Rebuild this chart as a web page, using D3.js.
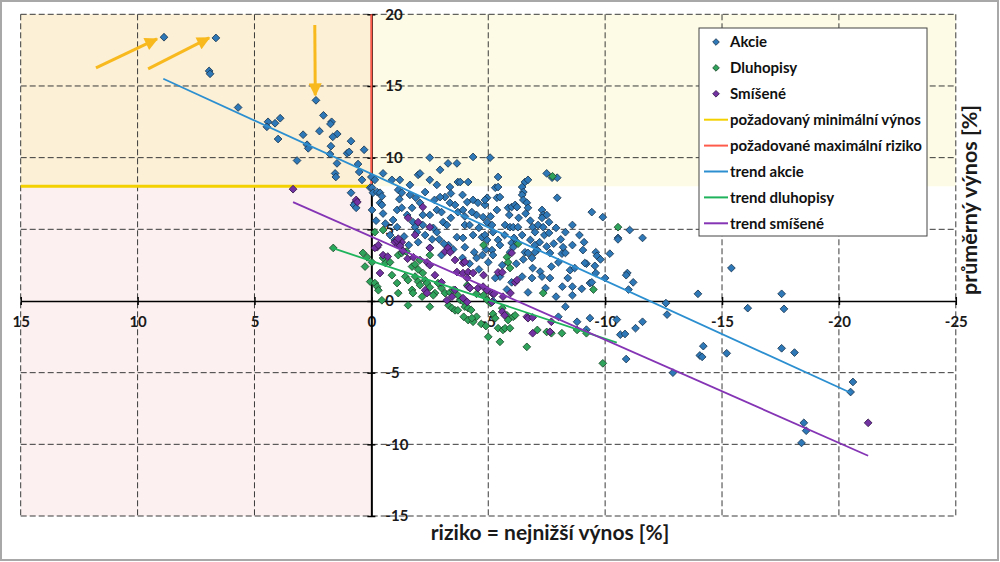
<!DOCTYPE html>
<html>
<head>
<meta charset="utf-8">
<script src="https://cdn.jsdelivr.net/npm/d3@7"></script>
<style>
    html, body { margin: 0; padding: 0; background: #fff; }
    svg { display: block; font-family: Lato, "Open Sans", sans-serif; }
    .tick text { font-size: 15px; font-weight: bold; fill: #1a1a1a; }
    .legend text { font-size: 15px; font-weight: bold; fill: #111; }
    .title { font-size: 21px; font-weight: bold; fill: #1a1a1a; }
</style>
</head>
<body>
<svg id="chart" width="1000" height="562"></svg>
<script>
// data (x = riziko, y = prumerny vynos)
const xTicks = [15, 10, 5, 0, -5, -10, -15, -20, -25];
const yTicks = [20, 15, 10, 5, 0, -5, -10, -15];
const minVynos = 8;
const maxRiziko = 0;

const akcie = [
    [8.87,18.4],[6.65,18.35],[6.94,16.05],[6.9,15.85],[5.7,13.5],[4.42,12.5],[4.47,12.15],[4.12,12.4],[3.9,12.75],
    [3.99,11.3],[3.18,9.8],[2.92,11.6],[2.75,10.9],[2.7,10.65],[2.37,14.0],[2.22,11.85],[2.05,12.95],[1.7,12.5],
    [1.75,12.35],[1.46,11.65],[1.65,11.45],[1.73,10.8],[1.77,10.25],[1.47,9.6],[1.55,8.9],[1.52,8.65],[1.04,10.3],
    [0.95,10.4],[0.87,11.15],[0.57,9.55],[0.52,9.0],[0.31,10.55],[0.4,8.45],[0.87,7.55],[0.7,6.85],[0.75,6.7],
    [0.0,8.65],[-0.15,8.45],[-0.5,8.9],[0.05,7.9],[-0.03,7.9],[-0.07,7.55],[-0.25,7.6],[-0.37,7.55],[-0.45,7.3],
    [-0.03,6.35],[-0.37,6.85],[-0.45,6.7],[0.65,6.5],[-0.88,8.45],[-1.22,8.45],[-1.15,7.75],[-1.3,7.55],
    [-1.65,8.1],[-1.65,7.4],[-2.0,8.8],[-2.08,8.9],[-2.5,10.0],[-2.5,8.45],[-2.8,8.1],[-2.94,9.15],[-3.15,7.25],
    [-3.28,9.6],[-3.66,9.6],[-3.36,7.95],[-3.7,8.3],[-3.8,8.3],[-4.14,8.3],[-4.35,10.05],[-4.35,7.05],[-4.56,6.85],
    [-4.86,6.7],[-1.1,6.35],[-1.3,6.5],[-1.53,6.0],[-1.74,6.5],[-1.78,5.5],[-1.87,5.15],[-2.08,6.85],[-2.2,6.0],
    [-2.5,6.0],[-2.7,7.05],[-2.94,7.25],[-2.8,6.35],[-3.0,6.2],[-3.07,5.5],[-3.23,5.3],[-2.65,5.1],[-2.8,4.8],
    [-3.36,6.85],[-3.58,6.7],[-3.7,6.2],[-3.92,6.35],[-4.0,5.3],[-4.2,5.3],[-4.5,6.0],[-4.78,5.85],[-3.66,4.45],
    [-3.92,4.4],[-4.35,4.6],[-4.73,4.45],[-0.93,5.65],[-1.1,5.15],
    [-5.08,10.0],[-5.42,8.65],[-5.3,7.9],[-5.42,7.95],[-4.95,7.2],[-4.86,7.05],[-5.37,7.2],[-5.5,7.25],[-5.37,6.35],
    [-5.85,6.5],[-6.0,6.55],[-6.15,6.7],[-6.23,6.55],[-6.45,7.95],[-6.57,8.3],[-6.7,8.45],[-6.5,7.6],[-6.45,7.4],
    [-6.5,7.05],[-6.65,6.85],[-6.7,6.5],[-7.5,8.9],[-7.73,8.6],[-7.95,8.6],[-7.95,7.2],[-7.3,6.35],[-7.35,6.0],
    [-7.5,6.0],[-7.3,5.8],[-8.6,5.3],[-9.43,6.2],[-9.9,5.85],[-11.05,4.95],[-10.55,4.4],[-11.6,4.4],[-4.95,5.5],
    [-5.16,5.3],[-5.72,5.3],[-5.93,5.15],[-6.07,5.15],[-6.27,5.15],[-6.9,5.15],[-7.13,5.3],[-7.35,5.15],[-7.0,4.8],
    [-7.4,4.6],[-7.6,4.75],[-8.3,4.8],[-4.86,4.6],[-4.95,4.26],[-5.42,4.26],[-5.5,3.9],[-6.0,4.05],[-6.23,4.1],
    [-6.45,4.6],[-6.8,4.26],[-7.0,3.9],[-7.1,3.55],[-7.2,4.1],[-8.2,3.75],[-8.6,3.9],
    [-3.3,3.9],[-3.5,3.6],[-4.0,3.75],[-4.4,3.4],[-4.5,3.0],[-4.75,3.2],[-3.9,3.0],[-4.2,2.6],[-5.0,2.7],[-4.6,2.2],
    [-3.1,4.0],[-2.6,4.3],[-2.3,4.6],[-1.95,4.8],[-2.5,3.7],[-3.0,3.2],[-1.4,4.5],[-0.8,4.6],[-1.0,4.25],
    [-5.16,3.55],[-5.2,3.2],[-5.93,3.4],[-6.07,3.75],[-6.57,3.4],[-6.7,3.35],[-6.87,3.0],[-7.0,3.4],[-7.64,3.35],
    [-8.15,3.3],[-8.3,3.35],[-9.05,3.55],[-9.6,3.4],[-9.65,3.15],[-9.2,2.6],[-9.56,2.45],[-9.13,2.65],[-8.5,2.15],
    [-8.7,2.3],[-6.45,1.7],[-6.87,1.6],[-7.22,2.05],[-7.3,1.7],[-7.64,1.6],[-7.45,0.9],[-8.17,1.0],[-8.6,1.0],
    [-8.6,0.4],[-9.0,0.85],[-9.35,1.25],[-9.43,1.3],[-10.0,1.6],[-10.95,1.95],[-10.9,1.8],[-11.2,1.3],[-11.0,0.8],
    [-8.3,-0.4],[-8.0,-1.1],[-9.35,-1.2],[-8.8,-1.45],[-10.5,-1.3],[-9.2,-2.0],[-10.65,-2.35],[-10.85,-2.3],
    [-11.3,-1.9],[-11.6,-1.45],[-5.5,1.7],[-5.3,1.6],[-6.0,1.3],[-5.2,0.0],[-10.55,4.3],[-9.6,1.95],
    [-12.6,-0.15],[-12.65,-0.95],[-13.97,0.5],[-15.4,2.3],[-16.1,-0.5],[-17.55,0.5],[-17.65,-0.55],[-10.9,-4.05],
    [-12.9,-5.0],[-14.2,-3.15],[-14.05,-3.8],[-14.15,-3.9],[-15.2,-3.65],[-17.55,-3.3],[-18.1,-3.6],[-20.6,-5.65],
    [-20.5,-6.35],[-18.5,-8.5],[-18.6,-9.05],[-18.4,-9.9],
    [-1.2,7.1],[-1.9,7.2],[-2.3,7.6],[-3.4,7.5],[-3.9,7.4],[-4.1,6.9],[-4.0,5.9],[-4.6,5.1],[-5.2,4.8],[-5.7,4.6],
    [-5.9,6.0],[-6.3,5.8],[-6.6,6.1],[-6.8,5.6],[-7.6,5.5],[-7.9,5.1],[-8.1,4.3],[-7.8,4.0],[-7.5,3.8],[-8.9,4.6],
    [-9.1,4.1],[-8.0,2.7],[-7.7,2.4],[-6.2,2.6],[-6.5,2.9],[-5.6,2.5],[-6.9,2.3],[-4.9,3.6],[-2.2,5.3],[-2.0,4.1],
    [-1.6,3.9],[-2.9,4.3],[-3.4,5.8],[-4.3,6.2],[-5.1,5.9],[-0.6,5.4],[-0.2,5.6],[-0.5,6.1],[-6.1,4.4],[-8.4,1.6],
    [-9.8,2.9],[-10.2,3.3],[-6.7,0.6],[-7.9,0.3],[-5.8,0.8]
];

const dluhopisy = [
    [1.63,3.7],[0.36,3.35],[0.18,3.05],[-0.03,2.7],[0.27,2.4],[0.05,1.35],[-0.15,1.25],[-0.25,1.0],[-0.3,0.75],
    [-0.45,0.05],[-0.15,4.8],[-0.5,4.95],[-0.6,2.65],[-0.8,2.7],[-0.88,1.8],[-1.1,1.25],[-1.15,3.2],[-1.3,3.35],
    [-1.45,1.7],[-1.57,1.45],[-1.57,-0.3],[-1.74,2.4],[-1.87,2.55],[-2.0,2.2],[-1.87,1.7],[-2.0,1.35],[-2.08,1.1],
    [-2.2,1.95],[-2.3,1.45],[-2.38,1.25],[-2.17,0.3],[-2.5,-0.4],[-2.5,0.95],[-2.72,0.55],[-2.65,0.4],[-2.85,1.25],
    [-3.0,0.9],[-3.15,0.55],[-3.36,0.6],[-3.3,-0.3],[-3.45,-0.5],[-3.58,-0.65],[-3.7,-0.65],[-3.8,0.07],
    [-3.95,-0.07],[-4.0,-0.4],[-4.14,-0.5],[-4.27,-0.63],[-3.95,-1.1],[-4.14,-1.33],[-4.35,-1.45],[-4.5,-1.1],
    [-4.3,-1.2],[-4.1,1.1],[-3.7,0.4],[-3.5,0.75],[-4.5,0.5],[-4.8,0.4],[-4.95,0.07],[-5.1,-0.15],[-5.0,-2.5],
    [-1.74,0.77],[-1.78,0.55],[-0.5,3.0],[-1.5,3.45],[-2.08,2.86],[-2.5,3.2],[-1.15,0.55],[-5.8,3.05],[-5.85,2.7],
    [-5.93,2.3],[-7.35,0.55],[-9.5,0.8],[-5.6,-0.5],[-5.8,-1.0],[-5.85,-1.33],[-6.07,-1.1],[-6.15,-1.0],
    [-5.42,-1.9],[-5.63,-2.02],[-5.72,-1.9],[-5.93,-1.9],[-5.5,-2.85],[-6.65,-3.2],[-7.1,-2.02],[-7.5,-2.16],
    [-7.7,-2.25],[-8.15,-2.25],[-8.8,-2.02],[-9.2,-2.25],[-10.55,5.15],[-9.9,-4.35],[-7.75,8.7],[-4.8,3.9],
    [-6.28,4.0],[-5.2,-0.9],[-5.3,-1.2],[-4.7,-1.6],[-4.9,-1.75]
];

const smisene = [
    [3.35,7.8],[0.65,7.05],[0.6,6.9],[-0.25,3.75],[-0.5,3.2],[-1.0,4.1],[-1.15,3.9],[-1.3,4.1],[-0.37,1.95],
    [-2.38,2.7],[-2.5,2.5],[-2.3,0.75],[-2.38,0.55],[-2.72,1.8],[-3.15,3.45],[-3.28,3.7],[-3.37,3.4],[-3.58,2.86],
    [-3.92,2.65],[-4.0,2.72],[-3.66,2.02],[-3.92,1.95],[-4.14,2.02],[-4.35,1.95],[-4.14,1.0],[-4.22,0.9],
    [-3.23,0.05],[-3.92,0.2],[-4.1,-0.07],[-4.56,0.9],[-4.78,1.0],[-4.95,0.75],[-5.16,0.55],[-3.58,0.77],
    [-5.42,2.0],[-5.6,2.0],[-6.15,1.3],[-6.23,1.45],[-5.63,0.3],[-5.6,-0.75],[-5.7,-1.0],[-6.65,-1.1],[-6.7,-1.2],
    [-6.9,-2.25],[-7.64,-2.15],[-5.16,-0.07],[-0.15,3.7],[-0.3,3.9],[-1.1,4.2],[-1.15,4.35],[-1.23,3.85],
    [-1.35,3.5],[-0.7,3.1],[-1.55,2.95],[-1.8,3.05],[-2.5,3.7],[-3.0,1.3],[-3.45,0.3],[-4.1,1.6],[-4.8,1.8],
    [-5.25,0.5],[-5.95,0.55],[-6.0,3.35],[-6.9,-1.15],[-7.7,-1.45],[-2.2,6.55],[-1.57,5.8],[-2.0,5.5],[-2.5,5.15],
    [-1.87,4.6],[-21.25,-8.5]
];

const trendAkcie = [[8.9, 15.5], [-20.5, -6.4]];
const trendDluhopisy = [[1.68, 3.7], [-10.5, -2.9]];
const trendSmisene = [[3.35, 6.9], [-21.25, -10.8]];

// sipky: [x od, y od, x do, y do]
const sipky = [[11.78, 16.26, 9.17, 18.28], [9.55, 16.19, 6.94, 18.35], [2.42, 19.25, 2.4, 14.35]];

const legendLabels = ['Akcie', 'Dluhopisy', 'Smíšené', 'požadovaný minimální výnos',
    'požadované maximální riziko', 'trend akcie', 'trend dluhopisy', 'trend smíšené'];

const colors = {
    akcie: '#2e78b8', dluhopisy: '#2fa35c', smisene: '#7232a2',
    trendAkcie: '#2c8fd0', trendDluhopisy: '#1fb35c', trendSmisene: '#8434b4',
    vynos: '#f3d000', riziko: '#ff5b4b', sipka: '#f7b91e'
};

const svg = d3.select('#chart');
const x = d3.scaleLinear().domain([15, -25]).range([20.7, 955.8]);
const y = d3.scaleLinear().domain([20, -15]).range([14.3, 516]);

// background zones
svg.append('rect').attr('x', x(15)).attr('y', y(minVynos))
    .attr('width', x(maxRiziko) - x(15)).attr('height', y(-15) - y(minVynos)).attr('fill', '#fcf0f0');
svg.append('rect').attr('x', x(15)).attr('y', y(20))
    .attr('width', x(maxRiziko) - x(15)).attr('height', y(minVynos) - y(20)).attr('fill', '#fcf0d6');
svg.append('rect').attr('x', x(maxRiziko)).attr('y', y(20))
    .attr('width', x(-25) - x(maxRiziko)).attr('height', y(minVynos) - y(20)).attr('fill', '#fdfbe5');

// grid
const grid = svg.append('g').attr('stroke', '#3a3a3a').attr('stroke-width', 1).attr('stroke-dasharray', '6,3');
grid.selectAll('.vx').data(xTicks.filter(d => d !== 0)).enter().append('line')
    .attr('x1', d => x(d)).attr('x2', d => x(d)).attr('y1', y(20)).attr('y2', y(-15));
grid.selectAll('.hy').data(yTicks.filter(d => d !== 0)).enter().append('line')
    .attr('y1', d => y(d)).attr('y2', d => y(d)).attr('x1', x(15)).attr('x2', x(-25));

// axes
const xAxis = svg.append('g').attr('transform', 'translate(0,' + y(0) + ')')
    .call(d3.axisBottom(x).tickValues(xTicks).tickSize(4).tickSizeOuter(0).tickPadding(11).tickFormat(d => String(d)));
xAxis.attr('font-size', null).attr('font-family', null);
xAxis.selectAll('.tick line').attr('y1', -4).attr('stroke-width', 1.5);
xAxis.select('.domain').attr('stroke-width', 1.6);

const yAxis = svg.append('g').attr('transform', 'translate(' + x(0) + ',0)')
    .call(d3.axisRight(y).tickValues(yTicks).tickSize(4).tickSizeOuter(0).tickPadding(10).tickFormat(d => String(d)));
yAxis.attr('font-size', null).attr('font-family', null);
yAxis.selectAll('.tick line').attr('x1', -4).attr('stroke-width', 1.5);
yAxis.select('.domain').attr('stroke-width', 2);
svg.selectAll('.tick text').attr('fill', null);

// limits
svg.append('line').attr('x1', x(15)).attr('x2', x(maxRiziko)).attr('y1', y(minVynos)).attr('y2', y(minVynos))
    .attr('stroke', colors.vynos).attr('stroke-width', 3);
svg.append('line').attr('x1', x(maxRiziko)).attr('x2', x(maxRiziko)).attr('y1', y(20)).attr('y2', y(minVynos))
    .attr('stroke', colors.riziko).attr('stroke-width', 2);

// points
const diamond = d3.symbol().type(d3.symbolSquare).size(30)();
function drawPoints(data, fill, stroke) {
    svg.append('g').selectAll('path').data(data).enter().append('path')
        .attr('d', diamond)
        .attr('transform', d => 'translate(' + x(d[0]) + ',' + y(d[1]) + ') rotate(45)')
        .attr('fill', fill).attr('stroke', stroke).attr('stroke-width', 0.8);
}
drawPoints(akcie, colors.akcie, '#1a3650');
drawPoints(dluhopisy, colors.dluhopisy, '#1c4a2c');
drawPoints(smisene, colors.smisene, '#35184a');

// trends
const line = d3.line().x(d => x(d[0])).y(d => y(d[1]));
[[trendAkcie, colors.trendAkcie], [trendDluhopisy, colors.trendDluhopisy], [trendSmisene, colors.trendSmisene]]
    .forEach(t => {
        svg.append('path').datum(t[0]).attr('d', line)
            .attr('fill', 'none').attr('stroke', t[1]).attr('stroke-width', 1.8);
    });

// arrows
svg.append('defs').append('marker')
    .attr('id', 'head').attr('viewBox', '0 0 10 10').attr('refX', 9).attr('refY', 5)
    .attr('markerWidth', 5).attr('markerHeight', 4.4).attr('orient', 'auto')
    .append('path').attr('d', 'M0,0L10,5L0,10Z').attr('fill', colors.sipka);
svg.append('g').selectAll('line').data(sipky).enter().append('line')
    .attr('x1', d => x(d[0])).attr('y1', d => y(d[1]))
    .attr('x2', d => x(d[2])).attr('y2', d => y(d[3]))
    .attr('stroke', colors.sipka).attr('stroke-width', 3).attr('marker-end', 'url(#head)');

// legend
const legend = svg.append('g').attr('class', 'legend').attr('transform', 'translate(699,28)');
legend.append('rect').attr('width', 228).attr('height', 208)
    .attr('fill', '#fff').attr('stroke', '#444').attr('stroke-width', 1);
const legendColors = [colors.akcie, colors.dluhopisy, colors.smisene, colors.vynos,
    colors.riziko, colors.trendAkcie, colors.trendDluhopisy, colors.trendSmisene];
const legendStroke = ['#1a3650', '#1c4a2c', '#35184a'];
const item = legend.selectAll('.item').data(legendLabels).enter().append('g')
    .attr('transform', (d, i) => 'translate(0,' + (14 + i * 25.9) + ')');
item.filter((d, i) => i < 3).append('path')
    .attr('d', d3.symbol().type(d3.symbolSquare).size(22)())
    .attr('transform', 'translate(17,0) rotate(45)')
    .attr('fill', (d, i) => legendColors[i]).attr('stroke', (d, i) => legendStroke[i]).attr('stroke-width', 0.8);
item.filter((d, i) => i >= 3).append('line')
    .attr('x1', 5).attr('x2', 29).attr('y1', 0).attr('y2', 0)
    .attr('stroke', (d, i) => legendColors[i + 3]).attr('stroke-width', 2);
item.append('text').attr('x', 31).attr('dy', '0.35em').text(d => d);

// titles
svg.append('text').attr('class', 'title').attr('x', 550).attr('y', 540)
    .attr('text-anchor', 'middle').text('riziko = nejnižší výnos [%]');
svg.append('text').attr('class', 'title').attr('transform', 'translate(977,200) rotate(-90)')
    .attr('text-anchor', 'middle').style('font-size', '21.5px').text('průměrný výnos [%]');

// frame
svg.append('rect').attr('x', 1).attr('y', 1).attr('width', 997).attr('height', 559)
    .attr('fill', 'none').attr('stroke', '#a8a8a8').attr('stroke-width', 2);
</script>
</body>
</html>
